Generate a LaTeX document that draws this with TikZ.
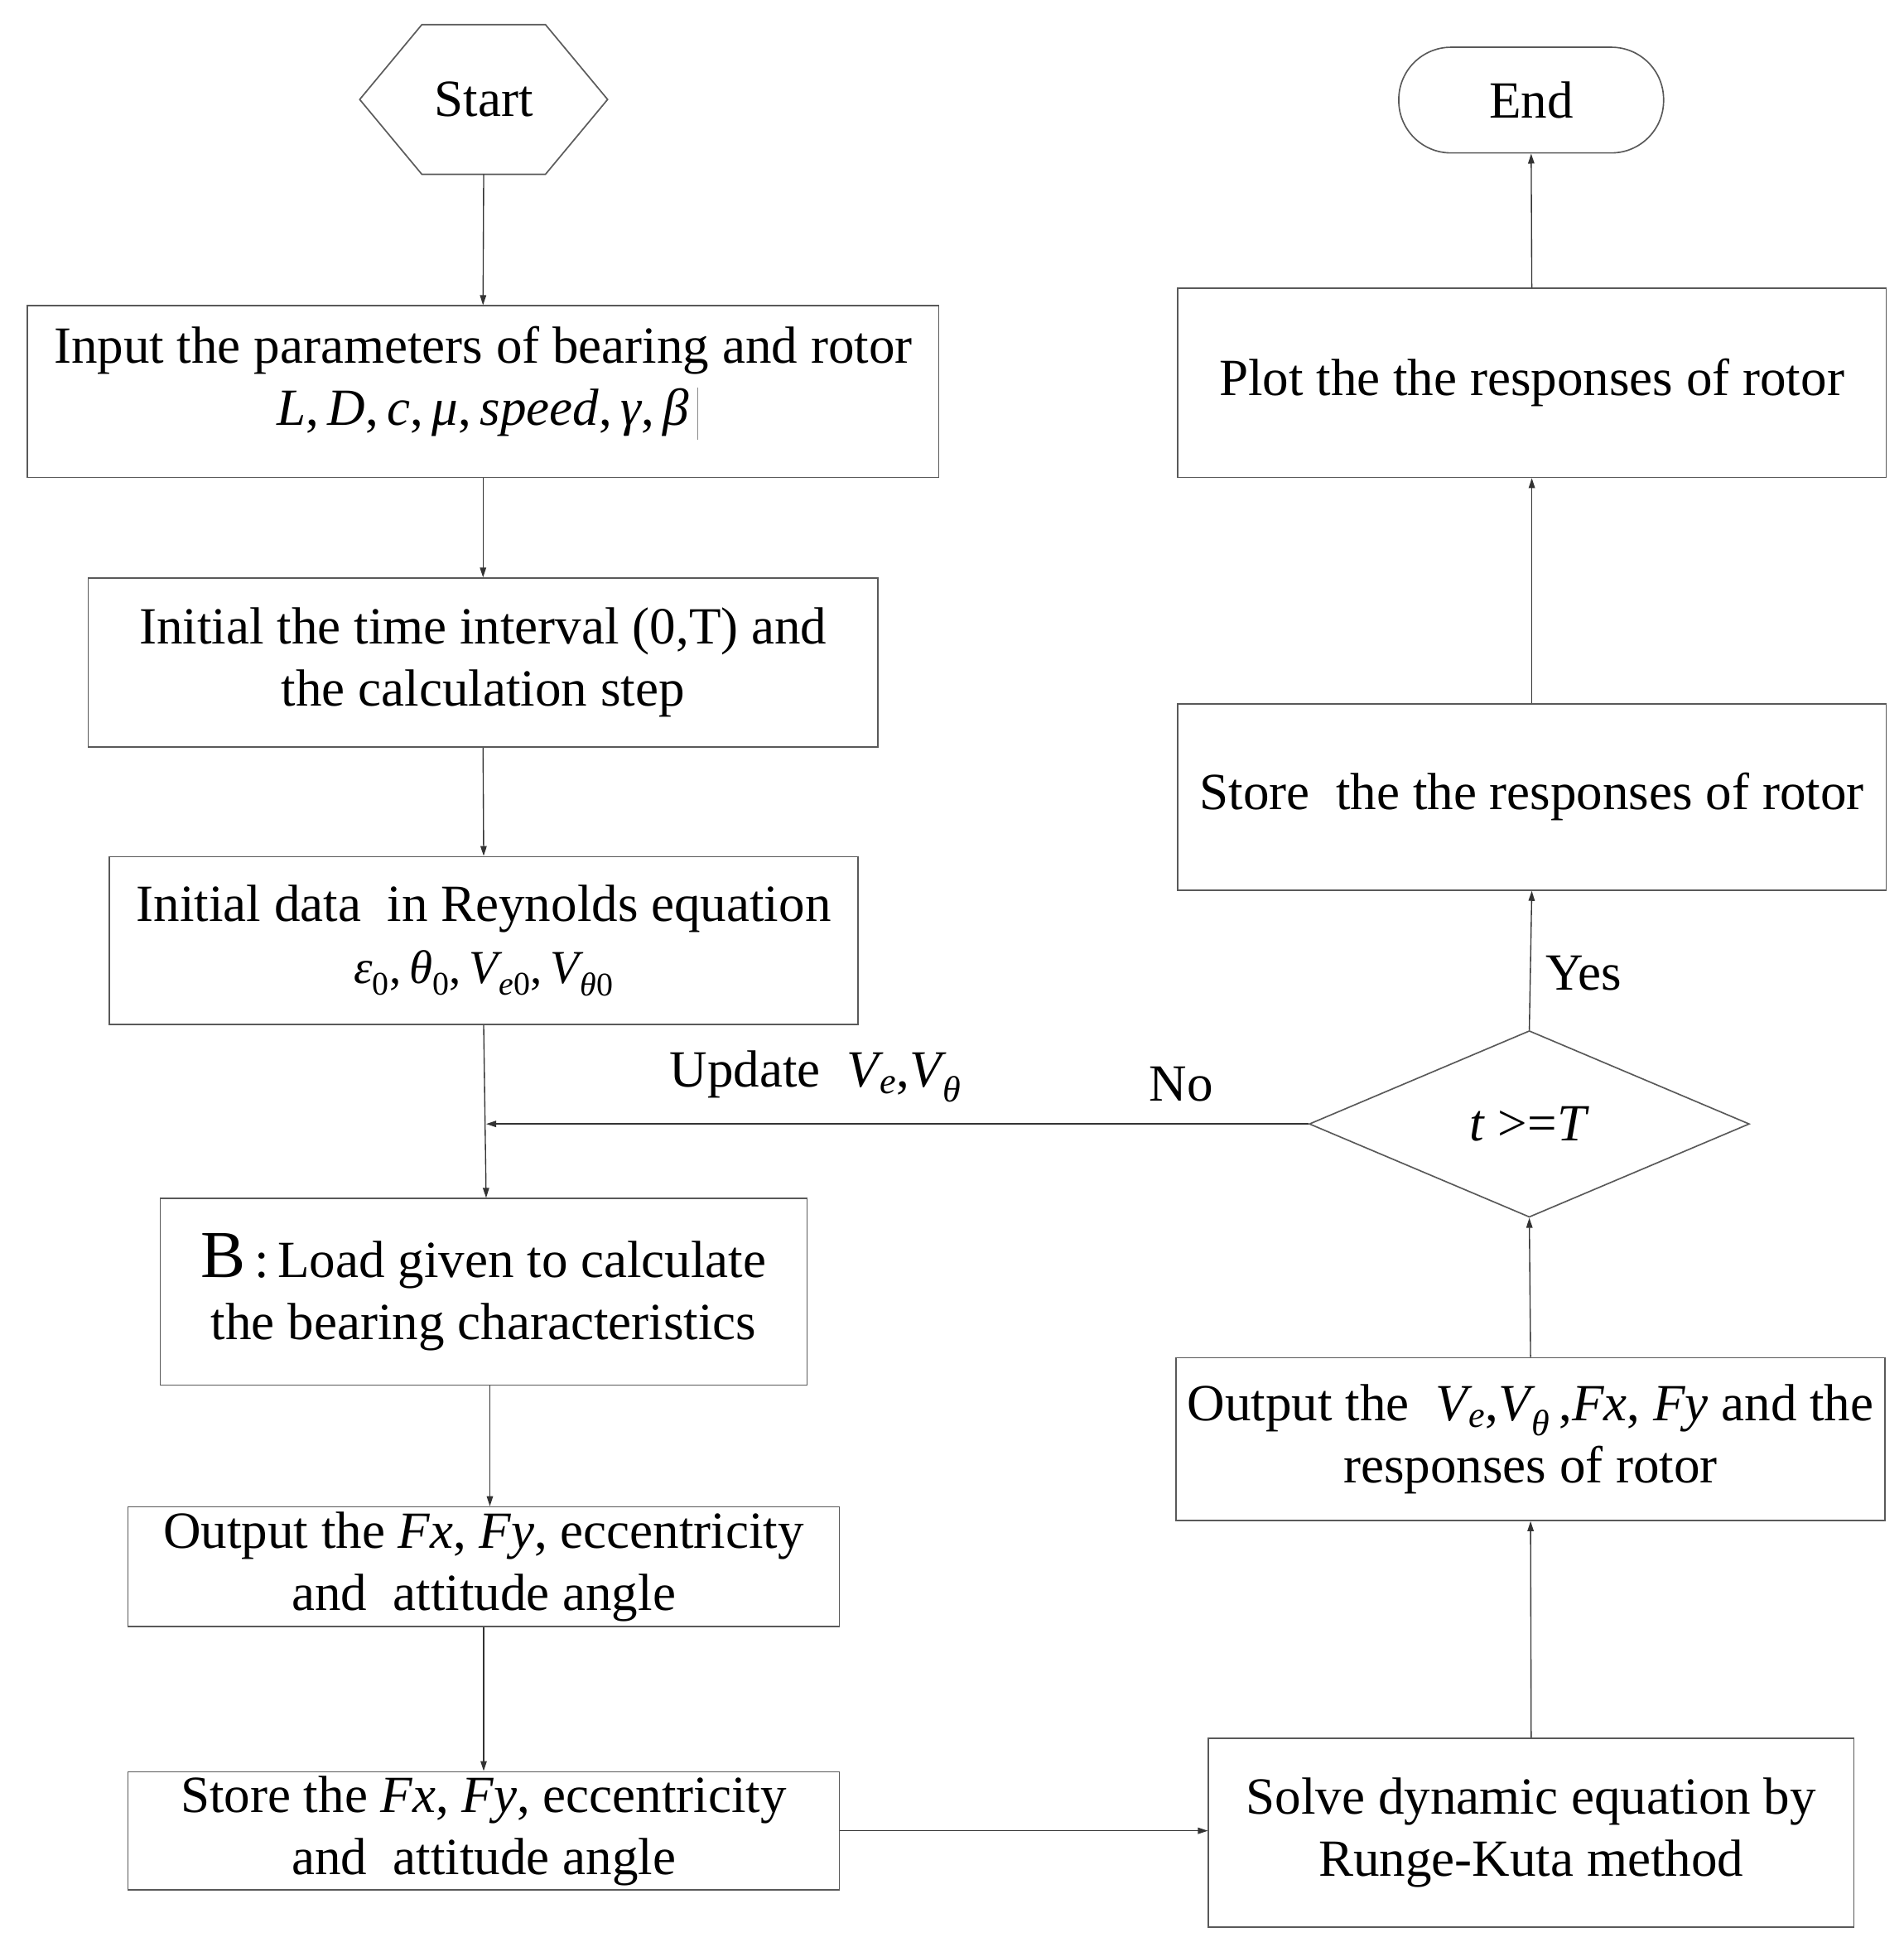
\documentclass[tikz,border=0pt]{standalone}
\usepackage{fontspec}
\setmainfont{Liberation Serif}
\usetikzlibrary{shapes.geometric,arrows.meta,calc}
\newcommand{\vsub}[2]{\textit{#1}\textsubscript{#2}}
\newcommand{\Vsub}[1]{\textit{V}\kern-3pt\textsubscript{#1}}
\begin{document}
\begin{tikzpicture}[x=1pt,y=-1pt,
  box/.style={draw=black!65, line width=1.1pt, rectangle, align=center, inner sep=0pt, font=\fontsize{42}{50}\selectfont},
  lab/.style={font=\fontsize{42}{50}\selectfont, inner sep=0pt, align=center},
  arr/.style={-{Triangle[length=8pt,width=5pt]}, line width=0.9pt, draw=black!80}]
\useasboundingbox[fill=white] (0,0) rectangle (1531,1566);

% Start hexagon
\node[lab, minimum width=199, minimum height=120] (start) at (389,80) {Start};
\draw[black!65, line width=1.1pt] (start.west) -- ($(start.north west)+(50,0)$) -- ($(start.north east)+(-50,0)$)
  -- (start.east) -- ($(start.south east)+(-50,0)$) -- ($(start.south west)+(50,0)$) -- cycle;

% left column
\node[box, minimum width=733, minimum height=138] (input) at (388.5,315) {};
\node[lab] (inputtxt) at (388.5,307) {Input the parameters of bearing and rotor\\ \textit{L},\,\textit{D},\,\textit{c},\,\textit{μ},\,\textit{speed},\,\textit{γ},\,\textit{β}};
\draw[black!45, line width=0.6pt] (561,312) -- (561,354);

\node[box, minimum width=635, minimum height=136] (time) at (388.5,533) {Initial the time interval (0,T) and\\ the calculation step};

\node[box, minimum width=602, minimum height=135] (data) at (389,756.5) {Initial data\ \ in Reynolds equation\\ {\fontsize{38}{50}\selectfont\vsub{ε}{0},\,\vsub{θ}{0},\,\Vsub{\textit{e}0},\,\Vsub{\textit{θ}0}}};

\node[box, minimum width=520, minimum height=150] (B) at (389,1039) {{\fontsize{54}{50}\selectfont B}\,:\,Load given to calculate\\ the bearing characteristics};

\node[box, minimum width=572, minimum height=96] (out1) at (389,1260) {Output the \textit{Fx}, \textit{Fy}, eccentricity\\ and\ \ attitude angle};

\node[box, minimum width=572, minimum height=95] (store1) at (389,1472.5) {Store the \textit{Fx}, \textit{Fy}, eccentricity\\ and\ \ attitude angle};

% right column
\node[box, minimum width=519, minimum height=152] (solve) at (1231.5,1474) {Solve dynamic equation by\\ Runge-Kuta method};

\node[box, minimum width=570, minimum height=131] (out2) at (1231,1157.5) {Output the\ \ \Vsub{\textit{e}},\Vsub{\textit{θ}}\,,\textit{Fx}, \textit{Fy} and the\\ responses of rotor};

\node[draw=black!65, line width=1.1pt, diamond, minimum width=354, minimum height=150, inner sep=0pt, font=\fontsize{42}{50}\selectfont] (dia) at (1230,904) {\textit{t} >=\textit{T}};

\node[box, minimum width=570, minimum height=150] (store2) at (1232,641) {Store\ \ the the responses of rotor};

\node[box, minimum width=570, minimum height=152] (plot) at (1232,308) {Plot the the responses of rotor};

\node[box, rounded corners=42pt, minimum width=213, minimum height=85] (end) at (1231.5,80.5) {End};

% connectors
\draw[arr] (start.south) -- (input.north);
\draw[arr] (input.south) -- (time.north);
\draw[arr] (time.south) -- (data.north);
\draw[arr] (data.south) -- ([xshift=2pt]B.north);
\coordinate (m0) at ($(data.south)+(2,0)$);
\coordinate (m) at (m0 |- dia.west);
\draw[arr] (dia.west) -- (m);
\draw[arr] ([xshift=5pt]B.south) -- ([xshift=5pt]out1.north);
\draw[arr] (out1.south) -- (store1.north);
\draw[arr] (store1.east) -- (solve.west |- store1.east);
\draw[arr] (solve.north) -- (out2.south);
\draw[arr] (out2.north) -- (dia.south);
\draw[arr] (dia.north) -- (store2.south);
\draw[arr] (store2.north) -- (plot.south);
\draw[arr] (plot.north) -- (end.south);

% labels
\node[lab] (upd) at (656,866) {Update\ \ \Vsub{\textit{e}},\Vsub{\textit{θ}}};
\node[lab] (no) at (950,872) {No};
\node[lab] (yes) at (1274,783) {Yes};
\end{tikzpicture}
\end{document}
